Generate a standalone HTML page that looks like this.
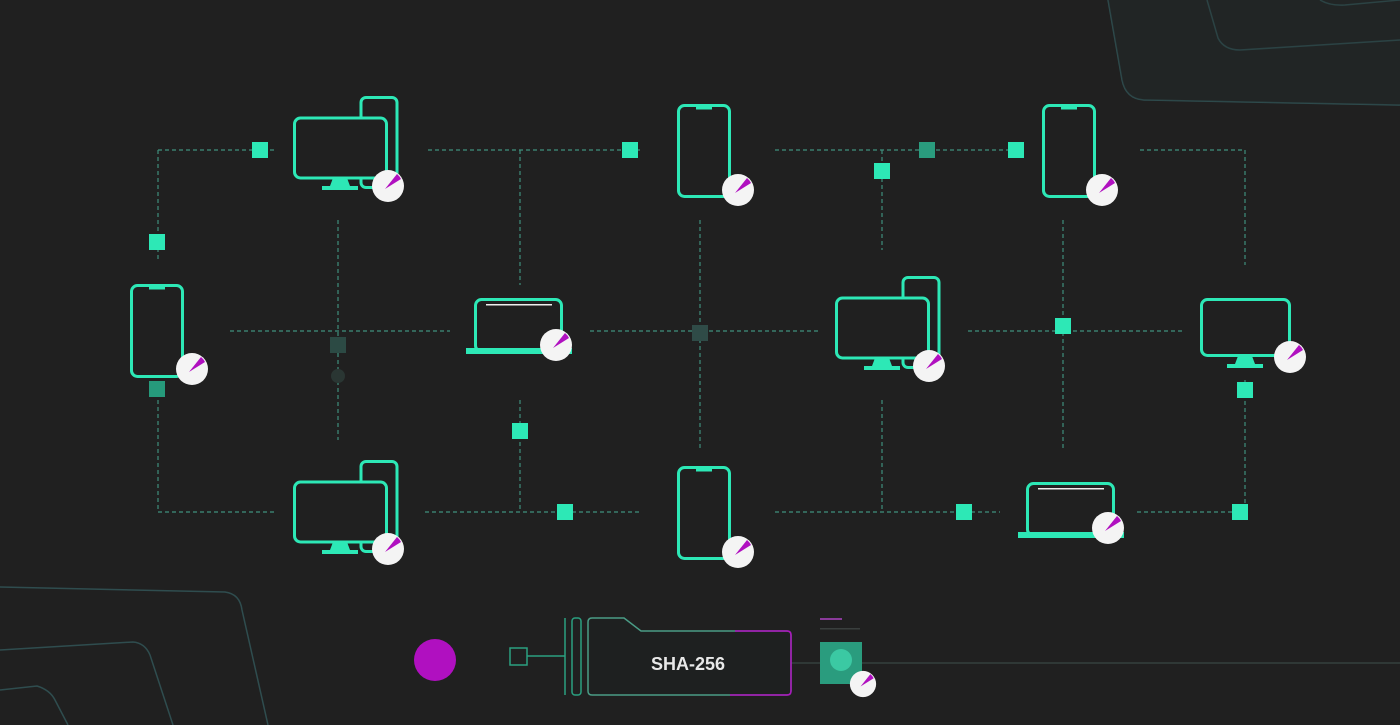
<!DOCTYPE html>
<html><head><meta charset="utf-8"><style>
html,body{margin:0;padding:0;background:#202020;}
svg{display:block}
</style></head><body>
<svg width="1400" height="725" viewBox="0 0 1400 725" xmlns="http://www.w3.org/2000/svg">
<defs>
<g id="pie"><circle r="16" fill="#f4f4f4"/><path d="M-3,3 L9,-12 A15 15 0 0 1 13,-7 Z" fill="#b010c0"/></g>
<g id="phone"><rect x="1.5" y="1.5" width="51" height="91" rx="6" fill="none" stroke="#2de8b6" stroke-width="3"/><rect x="19" y="1.5" width="16" height="4" fill="#2de8b6"/></g>
<g id="mon"><rect x="68" y="1.5" width="36" height="90" rx="5" fill="none" stroke="#2de8b6" stroke-width="3"/><rect x="1.5" y="22" width="92" height="60" rx="6" fill="#202020" stroke="#2de8b6" stroke-width="3"/><path d="M40,82 h14 l3,8 h8 v4 h-36 v-4 h8z" fill="#2de8b6"/></g>
<g id="monS"><rect x="1.5" y="1.5" width="88" height="56" rx="6" fill="none" stroke="#2de8b6" stroke-width="3"/><path d="M38,58 h14 l3,8 h8 v4 h-36 v-4 h8z" fill="#2de8b6"/></g>
<g id="lap"><rect x="9.5" y="1.5" width="86" height="52" rx="6" fill="none" stroke="#2de8b6" stroke-width="3"/><rect x="20" y="6" width="66" height="1.5" fill="#eee"/><rect x="0" y="50" width="106" height="6" fill="#2de8b6"/></g>
</defs>
<g fill="none" stroke="#2f4d4f" stroke-width="1.5">
<path d="M1108,0 L1122,80 Q1126,100 1146,100 L1400,105"/>
<path d="M1207,0 L1218,38 Q1224,50 1240,50 L1400,40"/>
<path d="M1320,0 Q1330,6 1345,5 L1400,0"/>
<path d="M0,587 L225,592 Q240,594 242,610 L268,725"/>
<path d="M0,650 L133,642 Q145,643 150,655 L173,725"/>
<path d="M0,690 L37,686 Q50,690 55,700 L68,725"/>
</g>
<path d="M1122,80 Q1126,100 1146,100 L1400,105 L1400,0 L1108,0Z" fill="#263030" opacity="0.35"/>
<g stroke="#3f8f7c" stroke-width="1.2" stroke-dasharray="4 3" fill="none">
<path d="M158,150 H275 M428,150 H640 M775,150 H1010 M1140,150 H1245"/>
<path d="M230,331 H450 M590,331 H820 M968,331 H1185"/>
<path d="M158,512 H275 M425,512 H640 M775,512 H1000 M1137,512 H1245"/>
<path d="M158,150 V262 M158,400 V512 M520,150 V285 M520,400 V512 M882,150 V250 M882,400 V512 M1245,150 V265 M1245,380 V512"/>
<path d="M338,220 V440 M700,220 V450 M1063,220 V450"/>
</g>
<g fill="#2de8b6">
<rect x="252" y="142" width="16" height="16"/><rect x="622" y="142" width="16" height="16"/>
<rect x="919" y="142" width="16" height="16" fill="#2a9c7e"/><rect x="1008" y="142" width="16" height="16"/>
<rect x="874" y="163" width="16" height="16"/><rect x="149" y="234" width="16" height="16"/>
<rect x="149" y="381" width="16" height="16" fill="#269a7b"/>
<rect x="330" y="337" width="16" height="16" fill="#2c4a44"/><rect x="692" y="325" width="16" height="16" fill="#2f4b47"/>
<rect x="1055" y="318" width="16" height="16"/><rect x="1237" y="382" width="16" height="16"/>
<rect x="512" y="423" width="16" height="16"/><rect x="557" y="504" width="16" height="16"/>
<rect x="956" y="504" width="16" height="16"/><rect x="1232" y="504" width="16" height="16"/>
</g>
<circle cx="338" cy="376" r="7" fill="#2a3633"/>
<use href="#mon" x="293" y="96"/><use href="#pie" x="388" y="186"/>
<use href="#phone" x="677" y="104"/><use href="#pie" x="738" y="190"/>
<use href="#phone" x="1042" y="104"/><use href="#pie" x="1102" y="190"/>
<use href="#phone" x="130" y="284"/><use href="#pie" x="192" y="369"/>
<use href="#lap" x="466" y="298"/><use href="#pie" x="556" y="345"/>
<use href="#mon" x="835" y="276"/><use href="#pie" x="929" y="366"/>
<use href="#monS" x="1200" y="298"/><use href="#pie" x="1290" y="357"/>
<use href="#mon" x="293" y="460"/><use href="#pie" x="388" y="549"/>
<use href="#phone" x="677" y="466"/><use href="#pie" x="738" y="552"/>
<use href="#lap" x="1018" y="482"/><use href="#pie" x="1108" y="528"/>
<line x1="791" y1="663" x2="1400" y2="663" stroke="#34403d" stroke-width="1.5"/>
<circle cx="435" cy="660" r="21" fill="#b010c0"/>
<rect x="510" y="648" width="17" height="17" fill="none" stroke="#2aa080" stroke-width="1.5"/>
<line x1="527" y1="656" x2="565" y2="656" stroke="#2aa080" stroke-width="1.5"/>
<line x1="565" y1="618" x2="565" y2="695" stroke="#2aa080" stroke-width="1.5"/>
<rect x="572" y="618" width="9" height="77" rx="3" fill="none" stroke="#2aa080" stroke-width="1.5"/>
<path d="M592,618 H624 L641,631 H787 Q791,631 791,635 V691 Q791,695 787,695 H592 Q588,695 588,691 V622 Q588,618 592,618Z" fill="#1e2020" stroke="#4a9c86" stroke-width="1.5"/>
<path d="M735,631 H787 Q791,631 791,635 V691 Q791,695 787,695 H730" fill="none" stroke="#b010c0" stroke-width="1.5"/>
<text x="688" y="670" text-anchor="middle" font-family="'Liberation Sans',sans-serif" font-weight="bold" font-size="18" fill="#e8e8e8">SHA-256</text>
<rect x="820" y="618" width="22" height="2" fill="#8a3a9a"/>
<rect x="820" y="628" width="40" height="1.5" fill="#3a3f3e"/>
<rect x="820" y="642" width="42" height="42" fill="#2a9c7e"/>
<circle cx="841" cy="660" r="11" fill="#3bc9a3"/>
<g transform="translate(863,684) scale(0.82)"><use href="#pie"/></g>
</svg>
</body></html>
